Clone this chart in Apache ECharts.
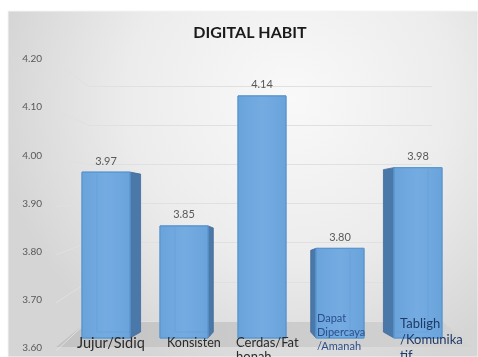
<!DOCTYPE html>
<html>
<head>
<meta charset="utf-8">
<script src="https://cdn.jsdelivr.net/npm/echarts@6/dist/echarts.min.js"></script>
<style>
  html, body { margin: 0; padding: 0; background: #ffffff; }
  #chart { width: 478px; height: 357px; }
</style>
</head>
<body>
<div id="chart"></div>
<script>
// Category names (wrapped the way they appear under the bars)
const categories = [
  'Jujur/Sidiq',
  'Konsisten',
  'Cerdas/Fat\nhonah',
  'Dapat\nDipercaya\n/Amanah',
  'Tabligh\n/Komunika\ntif'
];
// Average score per trait
const values = [3.97, 3.85, 4.14, 3.80, 3.98];
// Value axis
const yMin = 3.6;
const yMax = 4.2;
const yStep = 0.1;

// Per-category text styling for the floor labels
const labelStyle = [
  { size: 14.5, lh: 16, dx: -5, dy: 5,   color: '#2b2b2b' },
  { size: 12.5, lh: 15, dx: 7,  dy: 5,   color: '#2b2b2b' },
  { size: 13,   lh: 14, dx: -2, dy: 5,   color: '#2b2b2b' },
  { size: 11,   lh: 14, dx: 1,  dy: -20, color: '#2a4f8c' },
  { size: 13,   lh: 16, dx: 6,  dy: -14, color: '#1f3a66' }
];

const FONT = 'Lato, "Open Sans", sans-serif';
const chart = echarts.init(document.getElementById('chart'), null, { renderer: 'canvas' });

function renderBar(params, api) {
  const i = api.value(0);
  const v = api.value(1);
  const top = api.coord([i, v]);
  const base = api.coord([i, yMin]);
  const band = api.size([1, 0])[0];
  const w = band * 0.615;
  const cx = top[0];
  const x0 = cx - w / 2;
  const x1 = cx + w / 2;
  const yT = top[1];
  const yB = base[1];
  // perspective: side face visible towards the centre of the chart
  const mid = (categories.length - 1) / 2;
  const dx = (mid - i) * 5.3;
  const children = [];

  if (dx !== 0) {
    const edgeX = dx > 0 ? x1 : x0;
    children.push({
      type: 'polygon',
      shape: { points: [
        [edgeX, yT], [edgeX + dx, yT + 2], [edgeX + dx, yB - 6], [edgeX, yB]
      ] },
      style: { fill: '#4a78a8', stroke: '#41699a', lineWidth: 0.8 }
    });
  }
  // front face
  children.push({
    type: 'rect',
    shape: { x: x0, y: yT, width: w, height: yB - yT },
    style: {
      fill: new echarts.graphic.LinearGradient(0, 0, 1, 0, [
        { offset: 0, color: '#6aa3da' },
        { offset: 0.5, color: '#74ace2' },
        { offset: 1, color: '#6aa3da' }
      ]),
      stroke: '#5b97d0', lineWidth: 1
    }
  });
  // faint back edges seen through the box
  if (dx !== 0) {
    const bx = dx > 0 ? x0 + 15 : x1 - 14;
    children.push({
      type: 'polyline',
      shape: { points: [[bx, yT + 2], [bx, yB - 6], [dx > 0 ? x1 : x0, yB - 6]] },
      style: { stroke: 'rgba(80,135,195,0.28)', lineWidth: 0.8, fill: null }
    });
  }
  // value label
  children.push({
    type: 'text',
    style: {
      text: v.toFixed(2), x: cx, y: yT - 11,
      align: 'center', verticalAlign: 'middle',
      font: '11px ' + FONT, fill: '#595959'
    }
  });
  // category label on the floor
  const ls = labelStyle[i];
  children.push({
    type: 'text',
    z2: 10,
    style: {
      text: categories[i], x: x0 + ls.dx, y: yB + ls.dy - ls.lh / 2,
      align: 'left', verticalAlign: 'top',
      font: ls.size + 'px ' + FONT, lineHeight: ls.lh, fill: ls.color
    }
  });
  return { type: 'group', children: children };
}

const yTickValues = [];
for (let k = 0; k <= Math.round((yMax - yMin) / yStep); k++) yTickValues.push(yMin + k * yStep);

const backdrop = [
  {
    id: 'bg', type: 'rect', z: -10, silent: true,
    shape: { x: 8, y: 11, width: 470, height: 346 },
    style: {
      fill: new echarts.graphic.RadialGradient(0.6, 0.25, 0.85, [
        { offset: 0, color: '#f9f9f9' },
        { offset: 0.55, color: '#ececec' },
        { offset: 1, color: '#d5d5d5' }
      ]),
      stroke: '#f4f4f4', lineWidth: 1
    }
  },
  {
    id: 'floor', type: 'polygon', z: -5, silent: true,
    shape: { points: [[88, 321], [442, 321], [472, 347], [56, 347]] },
    style: {
      fill: new echarts.graphic.LinearGradient(0, 0, 1, 0, [
        { offset: 0, color: '#c3c3c3' },
        { offset: 1, color: '#d3d3d3' }
      ])
    }
  }
];

chart.setOption({
  animation: false,
  backgroundColor: '#ffffff',
  title: {
    text: 'DIGITAL HABIT',
    left: 245, top: 20, textAlign: 'center',
    textStyle: { fontFamily: FONT, fontSize: 16, fontWeight: 'bold', color: '#1a1a1a' }
  },
  grid: [
    // labels of the value axis
    { left: 46, right: 400, top: 59, bottom: 9 },
    // back wall
    { left: 88, right: 46, top: 86, bottom: 36 },
    // bars
    { left: 67, right: 21, top: 69, bottom: 19 }
  ],
  xAxis: [
    { gridIndex: 0, type: 'value', show: false, min: 0, max: 1 },
    { gridIndex: 1, type: 'value', show: false, min: 0, max: 1 },
    { gridIndex: 2, type: 'category', data: categories, show: false }
  ],
  yAxis: [
    {
      gridIndex: 0, type: 'value', min: yMin, max: yMax, interval: yStep,
      axisLine: { show: false }, axisTick: { show: false }, splitLine: { show: false },
      axisLabel: {
        margin: 4, color: '#595959', fontFamily: FONT, fontSize: 10,
        formatter: function (v) { return v.toFixed(2); }
      }
    },
    {
      gridIndex: 1, type: 'value', min: yMin, max: yMax, interval: yStep,
      axisLine: { show: false }, axisTick: { show: false }, axisLabel: { show: false },
      splitLine: { show: true, lineStyle: { color: '#e0e0e0', width: 1 } }
    },
    { gridIndex: 2, type: 'value', min: yMin, max: yMax, show: false }
  ],
  graphic: backdrop,
  series: [{
    type: 'custom',
    xAxisIndex: 2, yAxisIndex: 2,
    renderItem: renderBar,
    encode: { x: 0, y: 1 },
    data: values.map(function (v, i) { return [i, v]; }),
    z: 3
  }]
});

// slanted connectors from the value labels to the back wall
const wallLeft = chart.convertToPixel({ xAxisIndex: 1 }, 0);
const connectors = yTickValues.map(function (v, k) {
  const ya = chart.convertToPixel({ yAxisIndex: 0 }, v);
  const yb = chart.convertToPixel({ yAxisIndex: 1 }, v);
  return {
    id: 'conn' + k, type: 'line', z: -4, silent: true,
    shape: { x1: 56, y1: ya + 3, x2: wallLeft, y2: yb },
    style: { stroke: '#e0e0e0', lineWidth: 1 }
  };
});
chart.setOption({ graphic: backdrop.concat(connectors) });
</script>
</body>
</html>
